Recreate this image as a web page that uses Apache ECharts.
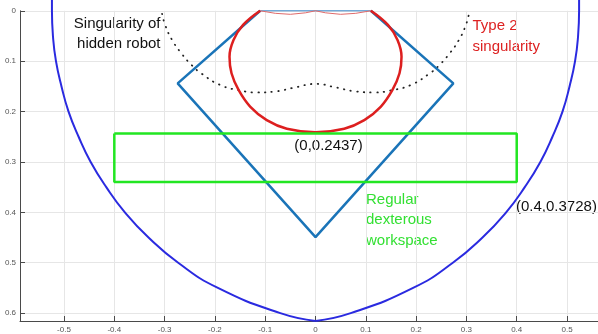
<!DOCTYPE html>
<html>
<head>
<meta charset="utf-8">
<script src="https://cdn.jsdelivr.net/npm/echarts@6/dist/echarts.min.js"></script>
<style>
html,body{margin:0;padding:0;background:#fff;}
#c{width:598px;height:334px;}
</style>
</head>
<body>
<div id="c"></div>
<script>
// Workspace boundary (blue), left arc and right arc meeting at bottom cusp
var boundLeftX = [-0.524, -0.524, -0.522, -0.516, -0.505, -0.491, -0.471, -0.447, -0.416, -0.379, -0.332, -0.273, -0.194, -0.070, 0.0];
var boundLeftY = [-0.022, 0.0, 0.05, 0.10, 0.15, 0.20, 0.25, 0.30, 0.35, 0.40, 0.45, 0.50, 0.55, 0.60, 0.6156];
var boundRightX = [0.0, 0.070, 0.194, 0.273, 0.332, 0.379, 0.416, 0.447, 0.471, 0.491, 0.505, 0.516, 0.522, 0.524, 0.524];
var boundRightY = [0.6156, 0.60, 0.55, 0.50, 0.45, 0.40, 0.35, 0.30, 0.25, 0.20, 0.15, 0.10, 0.05, 0.0, -0.022];

// Singularity of hidden robot (black dotted)
var hiddenX = [-0.305, -0.299, -0.285, -0.267, -0.246, -0.226, -0.190, -0.150, -0.117, -0.080, -0.040, 0.0, 0.040, 0.080, 0.117, 0.150, 0.190, 0.226, 0.246, 0.267, 0.285, 0.299, 0.305];
var hiddenY = [0.006, 0.028, 0.058, 0.084, 0.108, 0.125, 0.147, 0.158, 0.162, 0.160, 0.152, 0.145, 0.152, 0.160, 0.162, 0.158, 0.147, 0.125, 0.108, 0.084, 0.058, 0.028, 0.006];

// Type 2 singularity (red loop)
var type2X = [-0.110, -0.144, -0.163, -0.171, -0.167, -0.153, -0.130, -0.097, -0.057, 0.0, 0.057, 0.097, 0.130, 0.153, 0.167, 0.171, 0.163, 0.144, 0.110];
var type2Y = [0.000, 0.028, 0.058, 0.091, 0.124, 0.157, 0.190, 0.217, 0.234, 0.241, 0.234, 0.217, 0.190, 0.157, 0.124, 0.091, 0.058, 0.028, 0.000];
// thin red top curve
var type2TopX = [-0.110, -0.080, -0.050, -0.020, 0.0, 0.020, 0.050, 0.080, 0.110];
var type2TopY = [0.000, 0.005, 0.007, 0.004, 0.000, 0.004, 0.007, 0.005, 0.000];

// Blue diamond workspace
var diamondX = [-0.110, -0.274, 0.0, 0.274, 0.110];
var diamondY = [0.000, 0.144, 0.449, 0.144, 0.000];
var diamondTopX = [-0.110, 0.110];
var diamondTopY = [0.000, 0.000];

// Regular dexterous workspace (green rectangle)
var rectX = [-0.4, 0.4, 0.4, -0.4, -0.4];
var rectY = [0.2437, 0.2437, 0.3397, 0.3397, 0.2437];

function pts(xs, ys) { return xs.map(function (x, i) { return [x, ys[i]]; }); }

var chart = echarts.init(document.getElementById('c'), null, {renderer: 'canvas'});
var FONT = '"Liberation Sans", Arial, sans-serif';
var axisCol = '#4a4a4a';

function lineSeries(data, color, width, opts) {
  var s = {
    type: 'line', data: data, showSymbol: false, symbol: 'none', clip: false,
    silent: true, animation: false,
    lineStyle: {color: color, width: width}
  };
  if (opts) for (var k in opts) {
    if (k === 'lineStyle') { for (var j in opts.lineStyle) s.lineStyle[j] = opts.lineStyle[j]; }
    else s[k] = opts[k];
  }
  return s;
}

chart.setOption({
  animation: false,
  backgroundColor: '#ffffff',
  grid: {left: 20, top: 10.8, right: 0, height: 310.5, containLabel: false},
  xAxis: {
    type: 'value', min: -0.5875, max: 0.5616, splitNumber: 12, minInterval: 0.1, maxInterval: 0.1,
    axisLine: {onZero: false, lineStyle: {color: axisCol, width: 1}},
    axisTick: {inside: true, length: 5, lineStyle: {color: axisCol}},
    axisLabel: {showMinLabel: false, showMaxLabel: false, color: '#555', fontSize: 8, fontFamily: FONT, margin: 5},
    splitLine: {show: true, lineStyle: {color: '#e6e6e6', width: 1}}
  },
  yAxis: {
    type: 'value', inverse: true, min: 0, max: 0.6156, interval: 0.1,
    axisLine: {onZero: false, lineStyle: {color: axisCol, width: 1}},
    axisTick: {inside: true, length: 5, lineStyle: {color: axisCol}},
    axisLabel: {showMaxLabel: false, color: '#555', fontSize: 8, fontFamily: FONT, margin: 4},
    splitLine: {show: true, lineStyle: {color: '#e6e6e6', width: 1}}
  },
  series: [
    lineSeries(pts(boundLeftX, boundLeftY), '#2a2ae0', 2, {smooth: true}),
    lineSeries(pts(boundRightX, boundRightY), '#2a2ae0', 2, {smooth: true}),
    lineSeries(pts(hiddenX, hiddenY), '#222222', 1.8, {smooth: true, lineStyle: {type: [0.5, 6.2], cap: 'round'}}),
    lineSeries(pts(diamondX, diamondY), '#1a74b8', 2.5),
    lineSeries(pts(diamondTopX, diamondTopY), '#3a86c8', 1),
    lineSeries(pts(type2TopX, type2TopY), '#e06a6a', 1),
    lineSeries(pts(type2X, type2Y), '#dd1f1f', 2.5, {smooth: 0.4}),
    lineSeries(pts(rectX, rectY), '#22e622', 2.5)
  ],
  graphic: [
    {type: 'text', x: 160.5, y: 24, style: {text: 'Singularity of', font: '15px ' + FONT, fill: '#111', textAlign: 'right', textVerticalAlign: 'middle'}},
    {type: 'text', x: 160.5, y: 44, style: {text: 'hidden robot', font: '15px ' + FONT, fill: '#111', textAlign: 'right', textVerticalAlign: 'middle'}},
    {type: 'text', x: 472.5, y: 26, style: {text: 'Type 2', font: '15px ' + FONT, fill: '#dd2222', textAlign: 'left', textVerticalAlign: 'middle'}},
    {type: 'text', x: 472.5, y: 46.5, style: {text: 'singularity', font: '15px ' + FONT, fill: '#dd2222', textAlign: 'left', textVerticalAlign: 'middle'}},
    {type: 'text', x: 328.5, y: 145.5, style: {text: '(0,0.2437)', font: '15px ' + FONT, fill: '#111', textAlign: 'center', textVerticalAlign: 'middle'}},
    {type: 'text', x: 366, y: 200, style: {text: 'Regular', font: '15px ' + FONT, fill: '#33e033', textAlign: 'left', textVerticalAlign: 'middle'}},
    {type: 'text', x: 366, y: 220, style: {text: 'dexterous', font: '15px ' + FONT, fill: '#33e033', textAlign: 'left', textVerticalAlign: 'middle'}},
    {type: 'text', x: 366, y: 240.5, style: {text: 'workspace', font: '15px ' + FONT, fill: '#33e033', textAlign: 'left', textVerticalAlign: 'middle'}},
    {type: 'text', x: 516, y: 206.5, style: {text: '(0.4,0.3728)', font: '15px ' + FONT, fill: '#111', textAlign: 'left', textVerticalAlign: 'middle'}}
  ]
});
</script>
</body>
</html>
